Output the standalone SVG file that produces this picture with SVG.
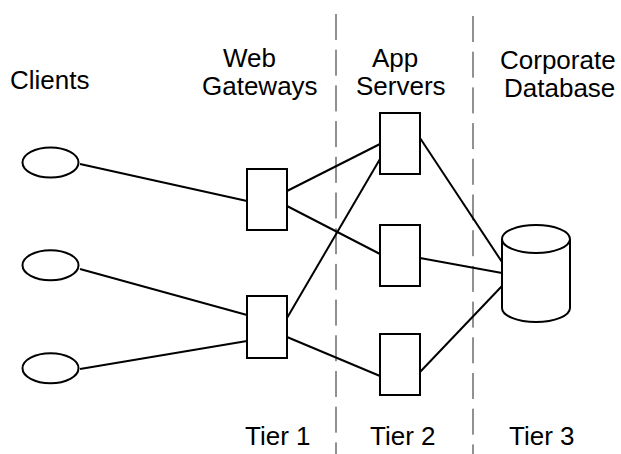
<svg xmlns="http://www.w3.org/2000/svg" width="621" height="454" viewBox="0 0 621 454">
<style>
.n{fill:#fff;stroke:#000;stroke-width:2}
.c line{stroke:#000;stroke-width:2}
.d{stroke:#222;stroke-width:1;stroke-dasharray:26 9.7}
text{font-family:"Liberation Sans",Arial,sans-serif;font-size:26px;fill:#000}
</style>
<rect width="621" height="454" fill="#fff"/>
<g id="tiers">
<line class="d" x1="336" y1="14" x2="336" y2="454"/>
<line class="d" x1="473" y1="16" x2="473" y2="454"/>
</g>
<g id="labels">
<text x="10" y="89">Clients</text>
<text x="223" y="67">Web</text>
<text x="202" y="95">Gateways</text>
<text x="372" y="67">App</text>
<text x="356" y="95">Servers</text>
<text x="500" y="69">Corporate</text>
<text x="504" y="97">Database</text>
<text x="245" y="445">Tier 1</text>
<text x="370" y="445">Tier 2</text>
<text x="509" y="445">Tier 3</text>
</g>
<g id="connectors" class="c">
<line x1="80" y1="164" x2="247" y2="201"/>
<line x1="80" y1="269" x2="247" y2="315"/>
<line x1="80" y1="369" x2="247" y2="341"/>
<line x1="287" y1="191" x2="380" y2="144"/>
<line x1="287" y1="206" x2="380" y2="254"/>
<line x1="287" y1="318" x2="380" y2="159"/>
<line x1="287" y1="337" x2="380" y2="376"/>
<line x1="420" y1="138" x2="502" y2="262"/>
<line x1="420" y1="258" x2="502" y2="273"/>
<line x1="420" y1="372" x2="502" y2="286"/>
</g>
<g id="client1"><ellipse class="n" cx="50.5" cy="162.5" rx="28" ry="15"/></g>
<g id="client2"><ellipse class="n" cx="50.5" cy="265.2" rx="28" ry="15"/></g>
<g id="client3"><ellipse class="n" cx="50.5" cy="368.2" rx="28" ry="15"/></g>
<g id="gateway1"><rect class="n" x="247" y="169" width="40" height="61"/></g>
<g id="gateway2"><rect class="n" x="247" y="296" width="40" height="62"/></g>
<g id="app1"><rect class="n" x="380" y="113" width="40" height="61"/></g>
<g id="app2"><rect class="n" x="380" y="225" width="40" height="61"/></g>
<g id="app3"><rect class="n" x="380" y="334" width="40" height="61"/></g>
<g id="database"><path class="n" d="M502,239 L502,308 A34,14 0 0,0 570,308 L570,239 A34,14 0 0,0 502,239 A34,14 0 0,0 570,239"/></g>
</svg>
